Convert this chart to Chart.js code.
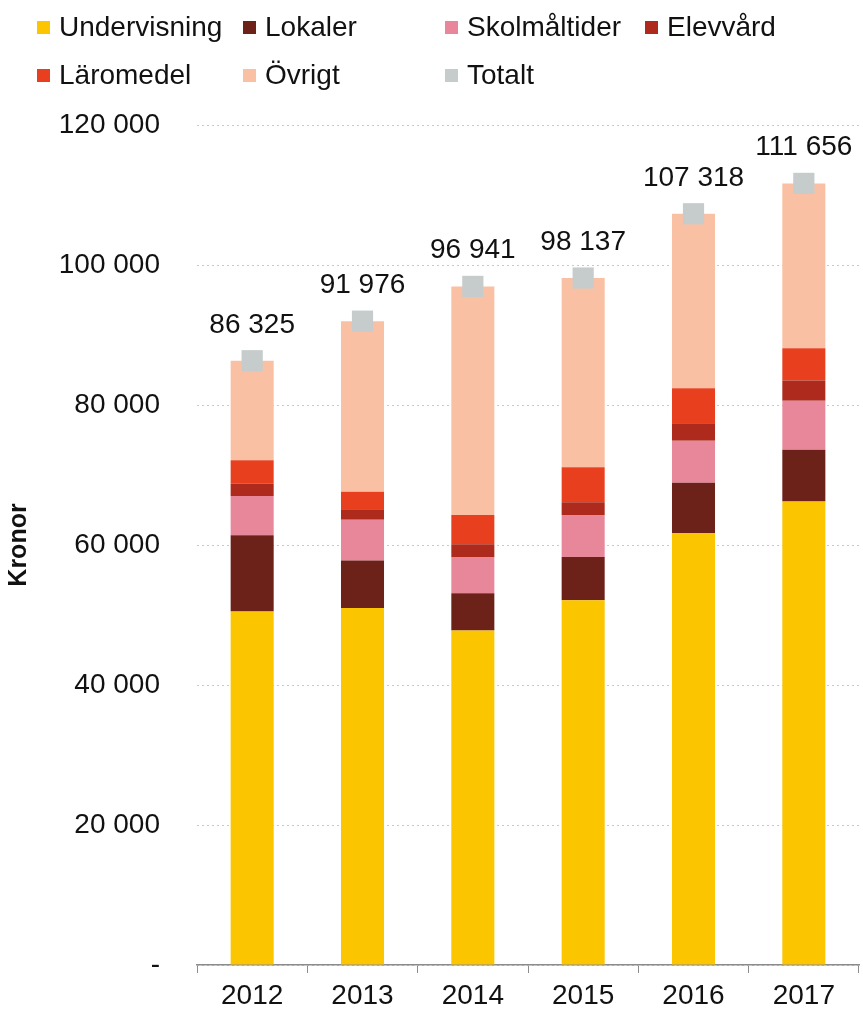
<!DOCTYPE html>
<html lang="sv">
<head>
<meta charset="utf-8">
<title>Kostnad per elev</title>
<script src="https://cdn.jsdelivr.net/npm/chart.js@4/dist/chart.umd.min.js"></script>
<style>
  html, body { margin: 0; padding: 0; background: #fff; overflow: hidden; }
  #wrap { position: relative; width: 863px; height: 1011px; }
  #wrap canvas { display: block; }
  #legend {
    position: absolute; left: 37px; top: 3px;
    display: grid; grid-template-columns: 206px 202px 200px 200px;
    grid-auto-rows: 48px;
    font-family: "Liberation Sans", Arial, sans-serif; font-size: 28px; color: #111;
  }
  #legend div { display: flex; align-items: center; white-space: nowrap; }
  #legend span.box { width: 13px; height: 13px; margin-right: 9px; flex: none; }
</style>
</head>
<body>
<div id="wrap">
  <div id="legend"></div>
  <canvas id="costChart"></canvas>
</div>
<script>
// Årtal på x-axeln
const years = ["2012", "2013", "2014", "2015", "2016", "2017"];

// Kostnad per del (kronor)
const undervisning = [50500, 51000, 47800, 52100, 61700, 66200];
const lokaler = [10900, 6800, 5300, 6200, 7200, 7400];
const skolmaltider = [5600, 5800, 5200, 6000, 6000, 7000];
const elevvard = [1800, 1500, 1800, 1800, 2500, 2900];
const laromedel = [3300, 2500, 4200, 5000, 5000, 4600];
const ovrigt = [14225, 24376, 32641, 27037, 24918, 23556];
const totalt = [86325, 91976, 96941, 98137, 107318, 111656];

// Tick-värden på y-axeln
const yTicks = [0, 20000, 40000, 60000, 80000, 100000, 120000];

const FONT = "'Liberation Sans', Arial, sans-serif";

// 120000 -> "120 000"
function fmt(v) {
  return String(v).replace(/\B(?=(\d{3})+(?!\d))/g, " ");
}

// Skriver totalen ovanför den grå rutan
const totalLabels = {
  id: "totalLabels",
  afterDatasetsDraw(chart) {
    const meta = chart.getDatasetMeta(6);
    const c = chart.ctx;
    c.save();
    c.font = "28px " + FONT;
    c.fillStyle = "#111";
    c.textAlign = "center";
    c.textBaseline = "alphabetic";
    meta.data.forEach((pt, i) => {
      c.fillText(fmt(totalt[i]), pt.x, pt.y - 28);
    });
    c.restore();
  },
};

function bar(label, data, color) {
  return {
    label: label,
    data: data,
    backgroundColor: color,
    borderWidth: 0,
    barPercentage: 0.39,
    categoryPercentage: 1,
    order: 1,
  };
}

const ctx = document.getElementById("costChart").getContext("2d");

const chart = new Chart(ctx, {
  type: "bar",
  data: {
    labels: years,
    datasets: [
      bar("Undervisning", undervisning, "#fbc500"),
      bar("Lokaler", lokaler, "#6c2119"),
      bar("Skolmåltider", skolmaltider, "#e8879a"),
      bar("Elevvård", elevvard, "#ad2a1c"),
      bar("Läromedel", laromedel, "#e8401f"),
      bar("Övrigt", ovrigt, "#f9c0a3"),
      {
        type: "line",
        label: "Totalt",
        data: totalt,
        showLine: false,
        pointStyle: "rect",
        pointRadius: 15,
        pointHoverRadius: 15,
        backgroundColor: "#c6cccc",
        borderColor: "#c6cccc",
        borderWidth: 0,
        order: 0,
      },
    ],
  },
  options: {
    responsive: true,
    maintainAspectRatio: false,
    animation: false,
    layout: { autoPadding: false, padding: { top: 125, left: 0, right: 4, bottom: 0 } },
    plugins: {
      legend: { display: false },
      tooltip: { enabled: false },
    },
    scales: {
      x: {
        stacked: true,
        border: { display: true, color: "#8c8c8c", width: 1.5 },
        grid: {
          display: true,
          drawOnChartArea: false,
          drawTicks: true,
          tickLength: 8,
          color: "#8c8c8c",
          offset: true,
        },
        ticks: {
          color: "#111",
          font: { family: FONT, size: 28 },
          padding: 6,
          maxRotation: 0,
        },
        afterFit(scale) {
          scale.height = 46;
          scale.paddingLeft = 0;
          scale.paddingRight = 0;
        },
      },
      y: {
        stacked: true,
        min: 0,
        max: 120000,
        border: { display: false },
        grid: {
          color: "#c8c8c8",
          drawTicks: false,
          lineWidth: 1,
        },
        afterBuildTicks(scale) {
          scale.ticks = yTicks.map((v) => ({ value: v }));
        },
        ticks: {
          color: "#111",
          font: { family: FONT, size: 28 },
          padding: 37,
          callback: (v) => (v === 0 ? "-" : fmt(v)),
        },
        title: {
          display: true,
          text: "Kronor",
          color: "#111",
          font: { family: FONT, size: 25, weight: "bold" },
          padding: { top: 4, bottom: 4 },
        },
        afterFit(scale) {
          scale.width = 197;
          scale.paddingTop = 0;
          scale.paddingBottom = 0;
        },
      },
    },
  },
  plugins: [totalLabels],
});

// Prickade stödlinjer
chart.options.scales.y.grid.borderDash = [2, 3];
chart.options.scales.y.border.dash = [2, 3];
chart.update();

// Egen förklaring i fyra kolumner
const legendEl = document.getElementById("legend");
chart.data.datasets.forEach((ds) => {
  const item = document.createElement("div");
  const box = document.createElement("span");
  box.className = "box";
  box.style.background = ds.backgroundColor;
  item.appendChild(box);
  item.appendChild(document.createTextNode(ds.label));
  legendEl.appendChild(item);
});
// Totalt står i tredje kolumnen på andra raden
legendEl.lastChild.style.gridColumn = "3";
</script>
</body>
</html>
